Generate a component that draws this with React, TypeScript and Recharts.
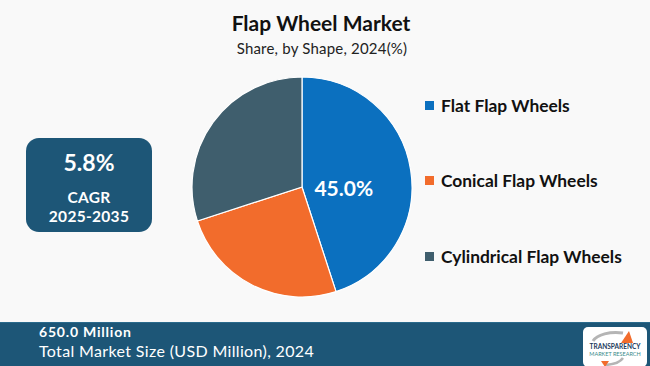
import React from "react";
import { PieChart, Pie, Cell, Legend } from "recharts";

const shapes = ["Flat Flap Wheels", "Conical Flap Wheels", "Cylindrical Flap Wheels"];
const shares = [45.0, 25.0, 30.0];
const colors = ["#0b70bf", "#f26c2c", "#3f5e6d"];

const cagr = "5.8%";
const cagrPeriod = "2025-2035";
const marketSize = "650.0 Million";
const marketLabel = "Total Market Size (USD Million), 2024";

const data = shapes.map((name, i) => ({ name, value: shares[i] }));

const bold = "Lato, 'Open Sans', sans-serif";
const geo = "Lato, 'Noto Sans', sans-serif";

const renderLabel = (props: any) => {
  const { cx, cy, outerRadius, index, value } = props;
  if (index !== 0) return null;
  return (
    <text
      x={cx + outerRadius * 0.38}
      y={cy}
      fill="#fff"
      textAnchor="middle"
      dominantBaseline="central"
      style={{ fontFamily: geo, fontSize: 21, fontWeight: 700 }}
    >
      {value.toFixed(1)}%
    </text>
  );
};

const renderLegend = () => (
  <div style={{ fontFamily: bold, fontWeight: 700, fontSize: 17.4, color: "#111" }}>
    {shapes.map((s, i) => (
      <div key={s} style={{ display: "flex", alignItems: "center", height: 24, marginBottom: i < 2 ? 51.6 : 0 }}>
        <span style={{ width: 9, height: 9, background: colors[i], marginRight: 7, display: "inline-block" }} />
        <span>{s}</span>
      </div>
    ))}
  </div>
);

export default function App() {
  return (
    <div style={{ position: "absolute", left: 0, top: 0, width: 650, height: 366, background: "#f9f9f9", overflow: "hidden" }}>
      <div style={{ position: "absolute", top: 10, width: 650, left: -4, textAlign: "center", fontFamily: bold, fontWeight: 700, fontSize: 21, color: "#111" }}>
        Flap Wheel Market
      </div>
      <div style={{ position: "absolute", top: 39, width: 650, left: -3, textAlign: "center", fontFamily: geo, fontSize: 15, letterSpacing: 0.2, color: "#222" }}>
        Share, by Shape, 2024(%)
      </div>

      <div style={{ position: "absolute", left: 0, top: 0 }}>
        <PieChart width={650} height={366} margin={{ top: 0, right: 0, bottom: 0, left: 0 }}>
          <Pie
            data={data}
            dataKey="value"
            nameKey="name"
            cx={302}
            cy={187}
            outerRadius={110}
            startAngle={90}
            endAngle={-270}
            stroke="#ffffff"
            strokeWidth={1.2}
            label={renderLabel}
            labelLine={false}
            isAnimationActive={false}
          >
            {data.map((d, i) => (
              <Cell key={d.name} fill={colors[i]} />
            ))}
          </Pie>
          <Legend content={renderLegend} wrapperStyle={{ left: 425, top: 93, width: 225 }} />
        </PieChart>
      </div>

      <div
        style={{
          position: "absolute",
          left: 26,
          top: 138,
          width: 126,
          height: 94,
          borderRadius: 13,
          background: "#1d5677",
          color: "#fff",
          textAlign: "center",
          fontFamily: geo,
          fontWeight: 700,
        }}
      >
        <div style={{ fontSize: 23, marginTop: 10, lineHeight: "28px" }}>{cagr}</div>
        <div style={{ fontSize: 15.5, marginTop: 12, lineHeight: "18px", letterSpacing: 0.3 }}>CAGR</div>
        <div style={{ fontSize: 15.5, lineHeight: "20px", letterSpacing: 0.3 }}>{cagrPeriod}</div>
      </div>

      <div style={{ position: "absolute", left: 0, top: 322, width: 650, height: 44, background: "#1d5677", borderTop: "1px solid #2a6a8c" }}>
        <div style={{ position: "absolute", left: 39, top: 2, color: "#fff", fontFamily: bold, fontWeight: 700, fontSize: 14, lineHeight: "14px", letterSpacing: 0.8 }}>
          {marketSize}
        </div>
        <div style={{ position: "absolute", left: 39, top: 19.5, color: "#fff", fontFamily: geo, fontSize: 16, lineHeight: "16px", letterSpacing: 0.35 }}>
          {marketLabel}
        </div>
        <div style={{ position: "absolute", left: 583, top: 4, width: 64, height: 40, background: "#fff", borderRadius: 5 }}>
          <svg width={64} height={40}>
            <path d="M10 14 A24 12 0 0 1 40 6" fill="none" stroke="#b5b5b5" strokeWidth={3} />
            <path d="M38 16 L46 4 L50 16 Z" fill="#f26c2c" />
            <text x={32} y={22} textAnchor="middle" fontFamily={bold} fontWeight={700} fontSize={6.5} fill="#1b3a5c">TRANSPARENCY</text>
            <text x={32} y={29} textAnchor="middle" fontFamily={geo} fontSize={5.5} fill="#3a8a8a">MARKET RESEARCH</text>
            <path d="M40 31 A22 10 0 0 1 22 38" fill="none" stroke="#b5b5b5" strokeWidth={2.5} />
            <path d="M18 34 L22 40 L26 34 Z" fill="#f26c2c" />
          </svg>
        </div>
      </div>
    </div>
  );
}
